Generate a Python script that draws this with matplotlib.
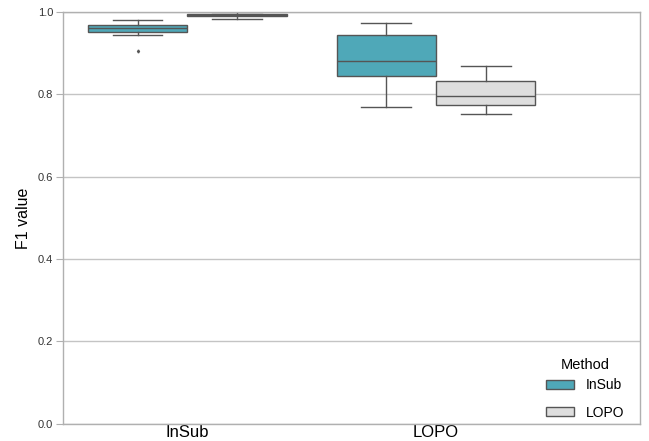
import matplotlib.pyplot as plt
from matplotlib.patches import Patch

plt.rcParams['font.family'] = ['Liberation Sans', 'DejaVu Sans']

# Box statistics per evaluation scheme, one entry per method (InSub, LOPO)
schemes = ["InSub", "LOPO"]
methods = ["InSub", "LOPO"]
colors = {"InSub": "#4fa8b8", "LOPO": "#dedede"}

whislo = {"InSub": [0.944, 0.769], "LOPO": [0.982, 0.752]}
q1 = {"InSub": [0.951, 0.845], "LOPO": [0.989, 0.774]}
med = {"InSub": [0.960, 0.881], "LOPO": [0.992, 0.797]}
q3 = {"InSub": [0.968, 0.944], "LOPO": [0.995, 0.832]}
whishi = {"InSub": [0.981, 0.973], "LOPO": [1.000, 0.869]}
fliers = {"InSub": [[0.905], []], "LOPO": [[], []]}

fig, ax = plt.subplots(figsize=(6.49, 4.41), dpi=100)
fig.subplots_adjust(left=0.097, right=0.986, bottom=0.039, top=0.973)

offsets = {"InSub": -0.2, "LOPO": 0.2}
line_c = "#555555"
for m in methods:
    stats = []
    for i in range(len(schemes)):
        stats.append(dict(whislo=whislo[m][i], q1=q1[m][i], med=med[m][i],
                          q3=q3[m][i], whishi=whishi[m][i], fliers=fliers[m][i]))
    pos = [i + offsets[m] for i in range(len(schemes))]
    ax.bxp(stats, positions=pos, widths=0.4, patch_artist=True, manage_ticks=False,
           boxprops=dict(facecolor=colors[m], edgecolor=line_c, linewidth=1),
           medianprops=dict(color=line_c, linewidth=1),
           whiskerprops=dict(color=line_c, linewidth=1),
           capprops=dict(color=line_c, linewidth=1),
           flierprops=dict(marker='d', markersize=1.5, markerfacecolor=line_c,
                           markeredgecolor=line_c))

ax.set_xlim(-0.5, 1.82)
ax.set_ylim(0, 1.0)
ax.set_xticks(range(len(schemes)))
ax.set_xticklabels(schemes, fontsize=12)
ax.set_yticks([0.0, 0.2, 0.4, 0.6, 0.8, 1.0])
ax.set_yticklabels(["0.0", "0.2", "0.4", "0.6", "0.8", "1.0"], fontsize=8, color="#333333")
ax.set_ylabel("F1 value", fontsize=11.5, labelpad=5)
ax.yaxis.grid(True, color="#c4c4c4", linewidth=1)
ax.set_axisbelow(True)
ax.tick_params(axis='y', length=5, color="#b0b0b0", pad=2)
ax.tick_params(axis='x', length=0, pad=1)
for s in ax.spines.values():
    s.set_color("#b0b0b0")
    s.set_linewidth(1)

handles = [Patch(facecolor=colors[m], edgecolor=line_c, label=m) for m in methods]
leg = ax.legend(handles=handles, title="Method", loc="lower right", frameon=False,
                fontsize=10, title_fontsize=10.5, labelspacing=0.97, handlelength=2.0,
                handleheight=0.65, handletextpad=0.85, bbox_to_anchor=(0.995, -0.02))
# tighter gap between the legend title and the entries
leg._legend_box.sep = 4.5

plt.savefig("out.png", dpi=100)
